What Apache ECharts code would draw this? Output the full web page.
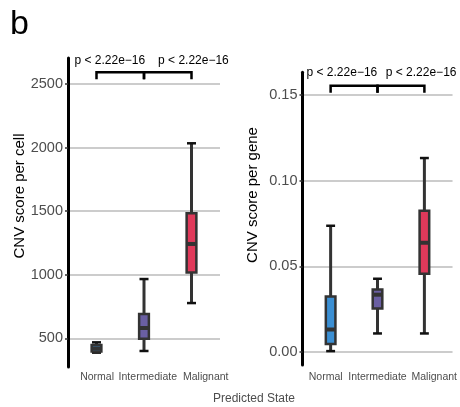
<!DOCTYPE html>
<html>
<head>
<meta charset="utf-8">
<script src="https://cdn.jsdelivr.net/npm/echarts@6/dist/echarts.min.js"></script>
<style>
  html, body { margin: 0; padding: 0; background: #fff; }
  #chart { width: 460px; height: 407px; }
</style>
</head>
<body>
<div id="chart"></div>
<script>
// Predicted cell states on the x axis
const categories = ['Normal', 'Intermediate', 'Malignant'];

// Five-number summaries per state: [lower whisker, Q1, median, Q3, upper whisker]
const cellNormal = [387, 395, 420, 447, 468];
const cellIntermediate = [400, 497, 581, 690, 966];
const cellMalignant = [777, 1018, 1242, 1484, 2034];

const geneNormal = [0.0006, 0.0047, 0.0132, 0.0325, 0.0737];
const geneIntermediate = [0.0109, 0.0255, 0.0335, 0.0365, 0.0428];
const geneMalignant = [0.0109, 0.0457, 0.0638, 0.0825, 0.1132];

// Tick values for the two y axes
const cellTicks = [500, 1000, 1500, 2000, 2500];
const geneTicks = [0, 0.05, 0.10, 0.15];

// Pairwise comparison brackets: [from state, to state, bracket level, tick foot]
const cellBrackets = [[1, 2, 2592, 2537], [2, 3, 2592, 2537]];
const geneBrackets = [[1, 2, 0.1554, 0.1513], [2, 3, 0.1554, 0.1513]];
// p-value labels: [x, y]
const cellPLabels = [[1.28, 2683], [3.04, 2683]];
const genePLabels = [[1.24, 0.1632], [2.93, 0.1632]];
const pLabel = 'p < 2.22e\u221216';

// Where the state names sit along each x axis
const cellLabelAt = [1.013, 2.08, 3.30];
const geneLabelAt = [0.894, 2.0, 3.21];

const stateColors = ['#3b8fd3', '#6a5fa3', '#e0395a'];
const FONT = '"Liberation Sans", Arial, Helvetica, sans-serif';

function boxData(stats) {
  return stats.map((s, i) => [i + 1].concat(s));
}

function renderBox(params, api) {
  const x = api.value(0);
  const lo = api.coord([x, api.value(1)]);
  const q1 = api.coord([x, api.value(2)]);
  const med = api.coord([x, api.value(3)]);
  const q3 = api.coord([x, api.value(4)]);
  const hi = api.coord([x, api.value(5)]);
  const boxW = api.size([0.205, 0])[0];
  const capW = api.size([0.19, 0])[0];
  const cx = lo[0];
  const color = stateColors[Math.round(x) - 1];
  return {
    type: 'group',
    children: [
      { type: 'line', shape: { x1: cx, y1: hi[1], x2: cx, y2: lo[1] },
        style: { stroke: '#333333', lineWidth: 3 } },
      { type: 'line', shape: { x1: cx - capW / 2, y1: hi[1], x2: cx + capW / 2, y2: hi[1] },
        style: { stroke: '#111111', lineWidth: 2.5 } },
      { type: 'line', shape: { x1: cx - capW / 2, y1: lo[1], x2: cx + capW / 2, y2: lo[1] },
        style: { stroke: '#111111', lineWidth: 2.5 } },
      { type: 'rect', shape: { x: cx - boxW / 2, y: q3[1], width: boxW, height: q1[1] - q3[1] },
        style: { fill: color, stroke: '#333333', lineWidth: 2.5 } },
      { type: 'line', shape: { x1: cx - boxW / 2, y1: med[1], x2: cx + boxW / 2, y2: med[1] },
        style: { stroke: '#333333', lineWidth: 4 } }
    ]
  };
}

function renderBracket(params, api) {
  const a = api.coord([api.value(0), api.value(2)]);
  const b = api.coord([api.value(1), api.value(2)]);
  const fa = api.coord([api.value(0), api.value(3)]);
  const fb = api.coord([api.value(1), api.value(3)]);
  return {
    type: 'polyline',
    shape: { points: [[fa[0], fa[1]], [a[0], a[1]], [b[0], b[1]], [fb[0], fb[1]]] },
    style: { stroke: '#000', lineWidth: 2.5, fill: null }
  };
}

function renderPLabel(params, api) {
  const p = api.coord([api.value(0), api.value(1)]);
  return {
    type: 'text',
    x: p[0], y: p[1],
    style: { text: pLabel, align: 'center', verticalAlign: 'middle',
             fontSize: 12, fontFamily: FONT, fill: '#000' }
  };
}

function yAxisFor(gridIndex, min, max, ticks, fmt) {
  return {
    gridIndex, type: 'value', min, max,
    axisLine: { show: true, lineStyle: { color: '#000', width: 3 } },
    axisTick: { show: true, customValues: ticks, length: 3, lineStyle: { color: '#333', width: 1.5 } },
    axisLabel: { customValues: ticks, color: '#4d4d4d', fontSize: 14.5, margin: 5,
                 fontFamily: FONT, formatter: fmt },
    splitLine: { show: true, lineStyle: { color: '#cccccc', width: 2 } }
  };
}

function xAxisFor(gridIndex, margin, labelAt) {
  return {
    gridIndex, type: 'value', min: 0.4, max: 3.6,
    axisLine: { show: false }, axisTick: { show: false }, splitLine: { show: false },
    axisLabel: {
      customValues: labelAt,
      formatter: v => categories[labelAt.findIndex(p => Math.abs(p - v) < 1e-6)],
      showMinLabel: true, showMaxLabel: true, hideOverlap: false,
      color: '#4d4d4d', fontSize: 10.5, margin, fontFamily: FONT
    }
  };
}

const chart = echarts.init(document.getElementById('chart'));
chart.setOption({
  animation: false,
  textStyle: { fontFamily: FONT },
  grid: [
    { left: 68, top: 58, width: 152, height: 309 },
    { left: 302.5, top: 72.3, width: 151, height: 292.7 }
  ],
  xAxis: [xAxisFor(0, 4.5, cellLabelAt), xAxisFor(1, 6.5, geneLabelAt)],
  yAxis: [
    yAxisFor(0, 274, 2705, cellTicks, v => String(v)),
    yAxisFor(1, -0.0075, 0.1632, geneTicks, v => v.toFixed(2))
  ],
  graphic: [
    { type: 'text', x: 10, y: 25,
      style: { text: 'b', fontSize: 34, fontFamily: FONT, fill: '#000', verticalAlign: 'middle' } },
    { type: 'text', x: 19.5, y: 196, rotation: Math.PI / 2,
      style: { text: 'CNV score per cell', fontSize: 15, fontFamily: FONT, fill: '#000',
               align: 'center', verticalAlign: 'middle' } },
    { type: 'text', x: 252.5, y: 195, rotation: Math.PI / 2,
      style: { text: 'CNV score per gene', fontSize: 15, fontFamily: FONT, fill: '#000',
               align: 'center', verticalAlign: 'middle' } },
    { type: 'text', x: 254, y: 399,
      style: { text: 'Predicted State', fontSize: 12, fontFamily: FONT, fill: '#4d4d4d',
               align: 'center', verticalAlign: 'middle' } }
  ],
  series: [
    { type: 'custom', xAxisIndex: 0, yAxisIndex: 0, renderItem: renderBox,
      data: boxData([cellNormal, cellIntermediate, cellMalignant]) },
    { type: 'custom', xAxisIndex: 1, yAxisIndex: 1, renderItem: renderBox,
      data: boxData([geneNormal, geneIntermediate, geneMalignant]) },
    { type: 'custom', xAxisIndex: 0, yAxisIndex: 0, renderItem: renderBracket, data: cellBrackets },
    { type: 'custom', xAxisIndex: 1, yAxisIndex: 1, renderItem: renderBracket, data: geneBrackets },
    { type: 'custom', xAxisIndex: 0, yAxisIndex: 0, renderItem: renderPLabel, data: cellPLabels },
    { type: 'custom', xAxisIndex: 1, yAxisIndex: 1, renderItem: renderPLabel, data: genePLabels }
  ]
});
</script>
</body>
</html>
